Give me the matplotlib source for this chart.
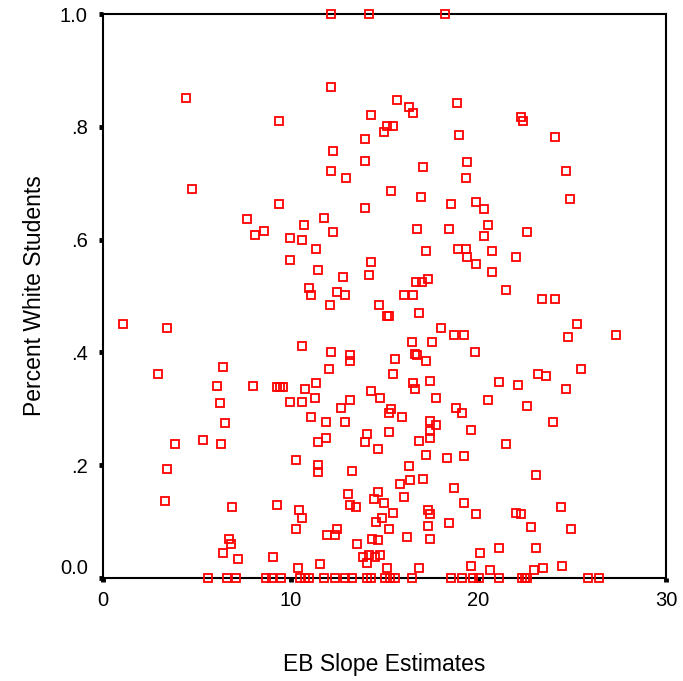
import numpy as np
import matplotlib
matplotlib.use("Agg")
import matplotlib.pyplot as plt

plt.rcParams['font.family'] = ['Liberation Sans', 'DejaVu Sans']

# EB slope estimate (x) vs percent white students (y)
slope = [
    12.13, 14.15, 18.24,
    4.41, 12.16, 9.38, 15.64, 14.26, 16.33, 16.54, 18.88, 15.11, 15.43, 14.95, 13.94, 18.99, 12.23,
    22.27, 22.39, 24.10, 4.72, 9.38, 7.68, 8.58, 8.10, 13.95, 12.17, 12.96, 17.04, 19.41, 19.32,
    15.34, 16.93, 18.53, 19.88, 13.95, 11.77, 10.69, 16.73, 18.42, 12.27, 9.98, 10.59, 11.37, 17.23,
    18.90, 19.32, 19.41, 19.87, 9.98, 14.26, 11.47, 12.77, 14.15, 17.34, 16.70, 17.01, 10.97, 12.46,
    12.87, 11.06, 16.03, 16.52, 24.68, 24.87, 20.32, 20.50, 20.32, 22.59, 20.71, 21.99, 20.71, 21.49,
    23.39, 24.08,
    1.05, 3.42, 2.93, 6.40, 6.10, 7.99, 9.29, 9.45, 9.61, 6.21, 9.97, 6.49, 3.83, 5.32, 6.31,
    12.07, 14.73, 15.15, 15.25, 16.82, 18.01, 18.72, 19.22, 19.81, 10.59, 12.16, 13.17, 13.17, 16.44,
    17.53, 16.65, 16.73, 17.23, 15.55, 12.06, 15.44, 16.53, 16.63, 17.43, 11.36, 10.78, 11.28, 14.26,
    14.75, 17.73, 10.59, 13.17, 12.66, 15.34, 15.23, 15.92, 18.81, 19.11, 11.06, 11.86, 12.87, 17.41,
    17.73, 19.61, 11.86, 11.45, 14.06, 13.94, 15.24, 17.41, 17.41, 16.82, 25.28, 24.79, 27.36, 25.46,
    23.17, 23.58, 21.10, 22.09, 24.68, 20.50, 22.59, 23.97, 21.49,
    3.42, 3.31, 6.90, 9.27, 6.70, 6.81, 6.40, 7.20, 9.08, 14.64, 10.28, 11.45, 11.45, 13.26, 17.23,
    18.31, 19.22, 16.33, 17.04, 16.35, 15.83, 18.72, 16.03, 13.07, 14.66, 14.43, 14.95, 13.17, 13.46,
    19.22, 10.47, 10.59, 15.44, 17.32, 17.43, 19.87, 10.28, 14.55, 14.86, 15.24, 17.32, 18.42, 11.95,
    12.36, 12.46, 14.34, 14.66, 16.22, 17.43, 13.56, 13.83, 14.15, 14.47, 14.75, 14.06, 11.57, 10.37,
    15.14, 16.82, 19.61, 20.08, 23.09, 21.99, 22.30, 24.38, 22.80, 24.96, 21.10, 23.09, 20.60, 22.98,
    23.47, 24.47,
    5.62, 6.60, 7.11, 8.67, 9.03, 9.50, 10.48, 10.74, 10.97, 11.77, 12.38, 12.87, 13.28, 14.06, 14.26,
    15.05, 15.27, 15.55, 16.44, 18.53, 19.13, 19.73, 20.03, 21.10, 22.34, 22.48, 22.59, 25.87, 26.45,
]
pct_white = [
    1.0, 1.0, 1.0,
    0.851, 0.871, 0.811, 0.848, 0.821, 0.835, 0.824, 0.842, 0.801, 0.801, 0.791, 0.778, 0.785, 0.757,
    0.817, 0.810, 0.782, 0.689, 0.663, 0.636, 0.616, 0.609, 0.739, 0.722, 0.709, 0.729, 0.738, 0.709,
    0.686, 0.676, 0.663, 0.666, 0.656, 0.639, 0.626, 0.619, 0.619, 0.613, 0.603, 0.599, 0.583, 0.580,
    0.583, 0.583, 0.570, 0.557, 0.564, 0.560, 0.547, 0.534, 0.537, 0.530, 0.524, 0.524, 0.515, 0.507,
    0.501, 0.501, 0.501, 0.501, 0.722, 0.672, 0.655, 0.626, 0.606, 0.613, 0.580, 0.570, 0.543, 0.510,
    0.495, 0.495,
    0.450, 0.444, 0.361, 0.374, 0.341, 0.341, 0.338, 0.338, 0.338, 0.311, 0.312, 0.275, 0.238, 0.245, 0.238,
    0.484, 0.484, 0.464, 0.464, 0.470, 0.444, 0.431, 0.431, 0.401, 0.411, 0.401, 0.395, 0.384, 0.418,
    0.418, 0.398, 0.395, 0.385, 0.388, 0.371, 0.362, 0.345, 0.335, 0.349, 0.345, 0.335, 0.319, 0.332,
    0.319, 0.319, 0.312, 0.315, 0.302, 0.299, 0.292, 0.285, 0.302, 0.292, 0.285, 0.276, 0.276, 0.279,
    0.272, 0.262, 0.249, 0.241, 0.256, 0.241, 0.259, 0.260, 0.248, 0.243, 0.450, 0.427, 0.431, 0.371,
    0.362, 0.358, 0.348, 0.342, 0.335, 0.315, 0.305, 0.276, 0.238,
    0.193, 0.137, 0.126, 0.129, 0.070, 0.060, 0.044, 0.034, 0.037, 0.229, 0.209, 0.200, 0.188, 0.189, 0.219,
    0.212, 0.216, 0.199, 0.176, 0.173, 0.166, 0.160, 0.143, 0.149, 0.153, 0.140, 0.133, 0.129, 0.126,
    0.133, 0.120, 0.106, 0.116, 0.120, 0.113, 0.113, 0.087, 0.100, 0.106, 0.087, 0.093, 0.097, 0.077,
    0.077, 0.087, 0.070, 0.067, 0.073, 0.070, 0.060, 0.037, 0.041, 0.037, 0.041, 0.027, 0.024, 0.017,
    0.017, 0.017, 0.021, 0.044, 0.183, 0.116, 0.113, 0.126, 0.090, 0.087, 0.054, 0.054, 0.014, 0.014,
    0.017, 0.021,
    0.0, 0.0, 0.0, 0.0, 0.0, 0.0, 0.0, 0.0, 0.0, 0.0, 0.0, 0.0, 0.0, 0.0, 0.0,
    0.0, 0.0, 0.0, 0.0, 0.0, 0.0, 0.0, 0.0, 0.0, 0.0, 0.0, 0.0, 0.0, 0.0,
]

x_ticks = [0, 10, 20, 30]
y_ticks = [0.0, 0.2, 0.4, 0.6, 0.8, 1.0]
y_tick_labels = ['0.0', '.2', '.4', '.6', '.8', '1.0']

fig = plt.figure(figsize=(6.83, 6.81), dpi=100)
ax = fig.add_axes([0.1508, 0.1512, 0.8243, 0.8282])

ax.plot(slope, pct_white, linestyle='none', marker='s', markersize=6,
        markerfacecolor='none', markeredgecolor='#ff0000', markeredgewidth=1.3,
        clip_on=False, zorder=5)

ax.set_xlim(0, 30)
ax.set_ylim(0, 1.0)
ax.set_xticks(x_ticks)
ax.set_yticks(y_ticks)
ax.set_yticklabels(y_tick_labels)
for s in ax.spines.values():
    s.set_linewidth(1.5)
    s.set_color('black')
ax.tick_params(direction='out', length=3, width=3.5, labelsize=14.5, pad=6)
ax.tick_params(axis='y', pad=8)
# SPSS puts the 0.0 label a little above its tick
ax.get_yticklabels()[0].set_va('bottom')

ax.set_xlabel('EB Slope Estimates', fontsize=16.5, labelpad=31)
ax.set_ylabel('Percent White Students', fontsize=16.5, labelpad=10)

fig.savefig('out.png', dpi=100)
